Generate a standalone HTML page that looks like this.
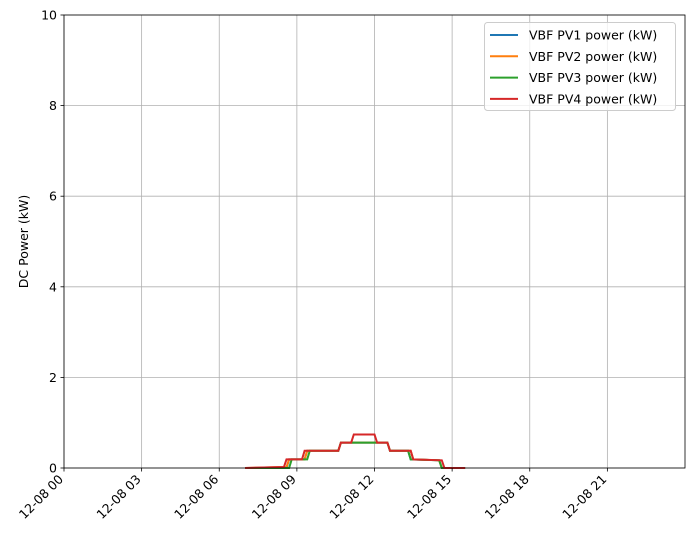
<!DOCTYPE html>
<html><head><meta charset="utf-8"><style>
body{margin:0;background:#fff;font-family:"Liberation Sans","DejaVu Sans",sans-serif;}
svg text{font-family:"DejaVu Sans","Liberation Sans",sans-serif;font-size:12.5px;fill:#000;}
</style></head><body>
<svg id="chart" width="694" height="542" xmlns="http://www.w3.org/2000/svg">
<rect width="694" height="542" fill="#fff"/>
<g id="grid"></g><g id="series"></g><g id="axes"></g><g id="legend"></g>
</svg>
<script>
const xTickHours=[0,3,6,9,12,15,18,21];
const xTickLabels=["12-08 00","12-08 03","12-08 06","12-08 09","12-08 12","12-08 15","12-08 18","12-08 21"];
const yTicks=[0,2,4,6,8,10];
const seriesNames=["VBF PV1 power (kW)","VBF PV2 power (kW)","VBF PV3 power (kW)","VBF PV4 power (kW)"];
const seriesColors=["#1f77b4","#ff7f0e","#2ca02c","#d62728"];
const pv1Times=[7,8.6,8.7,9.3,9.4,10.6,10.7,12.5,12.6,13.3,13.4,14.5,14.6,15.5];
const pv1Values=[0,0,0.19,0.19,0.38,0.38,0.56,0.56,0.38,0.38,0.19,0.17,0,0];
const pv2Times=[7,8.3,8.6,8.7,9.3,9.4,10.6,10.7,12.5,12.6,13.4,13.5,14.5,14.6,15.5];
const pv2Values=[0,0.02,0.02,0.19,0.19,0.38,0.38,0.56,0.56,0.38,0.38,0.19,0.17,0,0];
const pv3Times=[7,8.7,8.8,9.4,9.5,10.6,10.7,12.5,12.6,13.3,13.4,14.5,14.6,15.5];
const pv3Values=[0,0,0.19,0.19,0.38,0.38,0.56,0.56,0.38,0.38,0.19,0.17,0,0];
const pv4Times=[7,8.3,8.5,8.6,9.2,9.3,10.6,10.7,11.1,11.2,12.0,12.1,12.5,12.6,13.4,13.5,14.6,14.7,15.5];
const pv4Values=[0,0.02,0.02,0.19,0.19,0.38,0.38,0.56,0.56,0.74,0.74,0.56,0.56,0.38,0.38,0.19,0.17,0,0];
const allTimes=[pv1Times,pv2Times,pv3Times,pv4Times];
const allValues=[pv1Values,pv2Values,pv3Values,pv4Values];

const L=64,R=685,T=15,B=468,ns="http://www.w3.org/2000/svg";
const xs=h=>L+(R-L)*h/24, ys=v=>B-(B-T)*v/10;
function mk(tag,attrs,parent){const e=document.createElementNS(ns,tag);for(const k in attrs)e.setAttribute(k,attrs[k]);parent.appendChild(e);return e;}
const grid=document.getElementById('grid'),axes=document.getElementById('axes'),ser=document.getElementById('series'),leg=document.getElementById('legend');
xTickHours.forEach((h,i)=>{
  const x=xs(h);
  const g=mk('line',{x1:x,x2:x,y1:T,y2:B,stroke:'#b0b0b0','stroke-width':0.8},grid);
  
  
  mk('line',{x1:x,x2:x,y1:B,y2:B+3.5,stroke:'#000','stroke-width':0.8},axes);
  const t=mk('text',{x:x,y:B+12,'text-anchor':'end',transform:`rotate(-45 ${x} ${B+12})`},axes);
  t.textContent=xTickLabels[i];
  
  
});
yTicks.forEach(v=>{
  const y=ys(v);
  const g=mk('line',{x1:L,x2:R,y1:y,y2:y,stroke:'#b0b0b0','stroke-width':0.8},grid);
  
  
  mk('line',{x1:L-3.5,x2:L,y1:y,y2:y,stroke:'#000','stroke-width':0.8},axes);
  const t=mk('text',{x:L-7,y:y+4.5,'text-anchor':'end'},axes);
  t.textContent=v;
  
  
});
const fr=mk('rect',{x:L,y:T,width:R-L,height:B-T,fill:'none',stroke:'#000','stroke-width':0.8},axes);


const yl=mk('text',{x:28,y:(T+B)/2,'text-anchor':'middle',transform:`rotate(-90 28 ${(T+B)/2})`},axes);
yl.textContent='DC Power (kW)';


allTimes.forEach((ts,i)=>{
  const pts=ts.map((t,j)=>xs(t).toFixed(1)+','+ys(allValues[i][j]).toFixed(1)).join(' ');
  const p=mk('polyline',{points:pts,fill:'none',stroke:seriesColors[i],'stroke-width':2},ser);
  
  
});
const lb=mk('rect',{x:484.5,y:22.5,width:191,height:88,rx:3,fill:'#fff','fill-opacity':0.8,stroke:'#ccc'},leg);


seriesNames.forEach((n,i)=>{
  const y=35+i*21.3;
  mk('line',{x1:490,x2:518,y1:y,y2:y,stroke:seriesColors[i],'stroke-width':2},leg);
  const t=mk('text',{x:529,y:y+4.5},leg);
  t.textContent=n;
  
  
});
</script>
</body></html>
